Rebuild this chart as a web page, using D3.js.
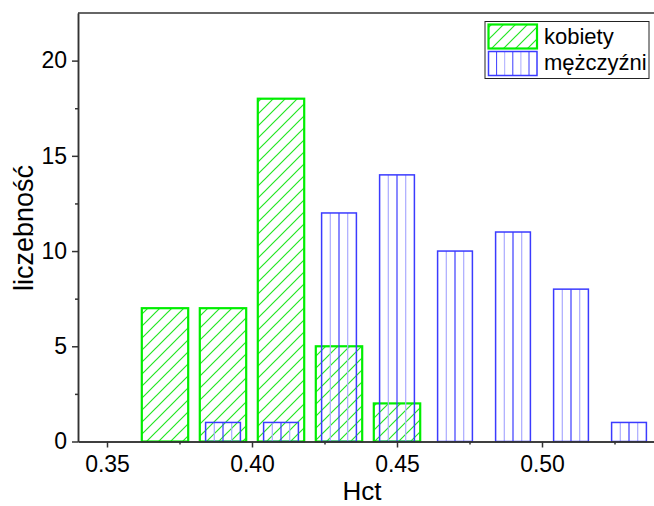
<!DOCTYPE html>
<html>
<head>
<meta charset="utf-8">
<script src="https://cdn.jsdelivr.net/npm/d3@7"></script>
<style>
  body { margin: 0; background: #fff; }
  svg { display: block; font-family: Arial, "Liberation Sans", sans-serif; }
  .axes path, .axes line { stroke: #333; stroke-width: 1.5; }
  .axes text { font-size: 23px; fill: #000; font-family: Arial, "Liberation Sans", sans-serif; }
</style>
</head>
<body>
<script>
// histogram bins (Hct) and counts
const bins = [0.37, 0.39, 0.41, 0.43, 0.45, 0.47, 0.49, 0.51, 0.53];
const kobiety = [7, 7, 18, 5, 2, 0, 0, 0, 0];
const mezczyzni = [0, 1, 1, 12, 14, 10, 11, 8, 1];
const seriesNames = ["kobiety", "mężczyźni"];
const xTicks = [0.35, 0.40, 0.45, 0.50];
const xMinor = [0.375, 0.425, 0.475, 0.525];
const yTicks = [0, 5, 10, 15, 20];
const yMinor = [2.5, 7.5, 12.5, 17.5];

const W = 654, H = 506,
      margin = {top: 13, right: -4, bottom: 64.5, left: 78},
      width = W - margin.left - margin.right,
      height = H - margin.top - margin.bottom;

const svg = d3.select("body").append("svg")
  .attr("width", W).attr("height", H);

const xScale = d3.scaleLinear().domain([0.34, 0.54]).range([margin.left, margin.left + width]);
const yScale = d3.scaleLinear().domain([0, 22.5]).range([margin.top + height, margin.top]);

const green = "#00ee00", blueDark = "#3b3bff", blueLight = "#aaaaff";

// diagonal hatch for women
const defs = svg.append("defs");
const hatch = defs.append("pattern")
  .attr("id", "hatch")
  .attr("patternUnits", "userSpaceOnUse")
  .attr("width", 12).attr("height", 12);
hatch.append("path")
  .attr("d", "M0,12 L12,0 M-3,3 L3,-3 M9,15 L15,9")
  .style("stroke", "#22e622").style("stroke-width", 1.2).style("fill", "none");

const bw1 = 0.016, bw2 = 0.012;

// women bars
const data1 = bins.map((b, i) => ({b: b, v: kobiety[i]})).filter(d => d.v > 0);
svg.selectAll("rect.kob")
  .data(data1).enter()
  .append("rect")
  .attr("class", "kob")
  .attr("x", d => xScale(d.b - bw1 / 2))
  .attr("y", d => yScale(d.v))
  .attr("width", xScale(bw1) - xScale(0))
  .attr("height", d => yScale(0) - yScale(d.v))
  .attr("fill", "url(#hatch)")
  .attr("stroke", green)
  .attr("stroke-width", 2.2);

// men bars, vertical stripes
const data2 = bins.map((b, i) => ({b: b, v: mezczyzni[i]})).filter(d => d.v > 0);
const men = svg.selectAll("g.men")
  .data(data2).enter()
  .append("g").attr("class", "men");
men.selectAll("line")
  .data(d => [0.25, 0.5, 0.75].map(f => ({d: d, f: f})))
  .enter().append("line")
  .attr("x1", o => xScale(o.d.b - bw2 / 2 + o.f * bw2))
  .attr("x2", o => xScale(o.d.b - bw2 / 2 + o.f * bw2))
  .attr("y1", o => yScale(o.d.v))
  .attr("y2", yScale(0))
  .attr("stroke", o => o.f === 0.5 ? blueDark : blueLight)
  .attr("stroke-width", 1.2);
men.append("rect")
  .attr("x", d => xScale(d.b - bw2 / 2))
  .attr("y", d => yScale(d.v))
  .attr("width", xScale(bw2) - xScale(0))
  .attr("height", d => yScale(0) - yScale(d.v))
  .attr("fill", "none")
  .attr("stroke", blueDark)
  .attr("stroke-width", 1.5);

// axes
const xAxis = d3.axisBottom(xScale).tickValues(xTicks)
  .tickFormat(d3.format(".2f")).tickSizeInner(6).tickSizeOuter(0).tickPadding(8);
const xAxisMinor = d3.axisBottom(xScale).tickValues(xMinor)
  .tickFormat("").tickSizeInner(3).tickSizeOuter(0);
const yAxis = d3.axisLeft(yScale).tickValues(yTicks)
  .tickSizeInner(6).tickSizeOuter(0).tickPadding(5);
const yAxisMinor = d3.axisLeft(yScale).tickValues(yMinor)
  .tickFormat("").tickSizeInner(3).tickSizeOuter(0);

svg.append("g").attr("class", "axes")
  .attr("transform", "translate(0," + yScale(0) + ")").call(xAxis);
svg.append("g").attr("class", "axes")
  .attr("transform", "translate(0," + yScale(0) + ")").call(xAxisMinor);
svg.append("g").attr("class", "axes")
  .attr("transform", "translate(" + margin.left + ",0)").call(yAxis);
svg.append("g").attr("class", "axes")
  .attr("transform", "translate(" + margin.left + ",0)").call(yAxisMinor);

// top frame line
svg.append("line")
  .attr("x1", margin.left).attr("x2", margin.left + width)
  .attr("y1", margin.top).attr("y2", margin.top)
  .attr("stroke", "#333").attr("stroke-width", 1.5);

// axis titles
svg.append("text")
  .attr("x", 362).attr("y", 500)
  .attr("text-anchor", "middle")
  .attr("font-size", 26)
  .text("Hct");
svg.append("text")
  .attr("transform", "translate(33,228) rotate(-90)")
  .attr("text-anchor", "middle")
  .attr("font-size", 27)
  .text("liczebność");

// legend
const lg = svg.append("g");
lg.append("rect")
  .attr("x", 485).attr("y", 21.5).attr("width", 164).attr("height", 57)
  .attr("fill", "#fff").attr("stroke", "#222").attr("stroke-width", 1);
lg.append("rect")
  .attr("x", 488.5).attr("y", 24.5).attr("width", 48.5).attr("height", 24)
  .attr("fill", "url(#hatch)").attr("stroke", green).attr("stroke-width", 2.2);
lg.selectAll("line.lgl")
  .data([1, 2, 3, 4, 5]).enter()
  .append("line")
  .attr("x1", i => 488.5 + i * 8.1).attr("x2", i => 488.5 + i * 8.1)
  .attr("y1", 51.5).attr("y2", 75.5)
  .attr("stroke", i => i % 2 ? blueDark : blueLight)
  .attr("stroke-width", 1);
lg.append("rect")
  .attr("x", 488.5).attr("y", 51.5).attr("width", 48.5).attr("height", 24)
  .attr("fill", "none").attr("stroke", blueDark).attr("stroke-width", 1.5);
lg.selectAll("text")
  .data(seriesNames).enter()
  .append("text")
  .attr("x", 544)
  .attr("y", (d, i) => 43.5 + i * 26)
  .attr("font-size", 22)
  .text(d => d);
</script>
</body>
</html>
